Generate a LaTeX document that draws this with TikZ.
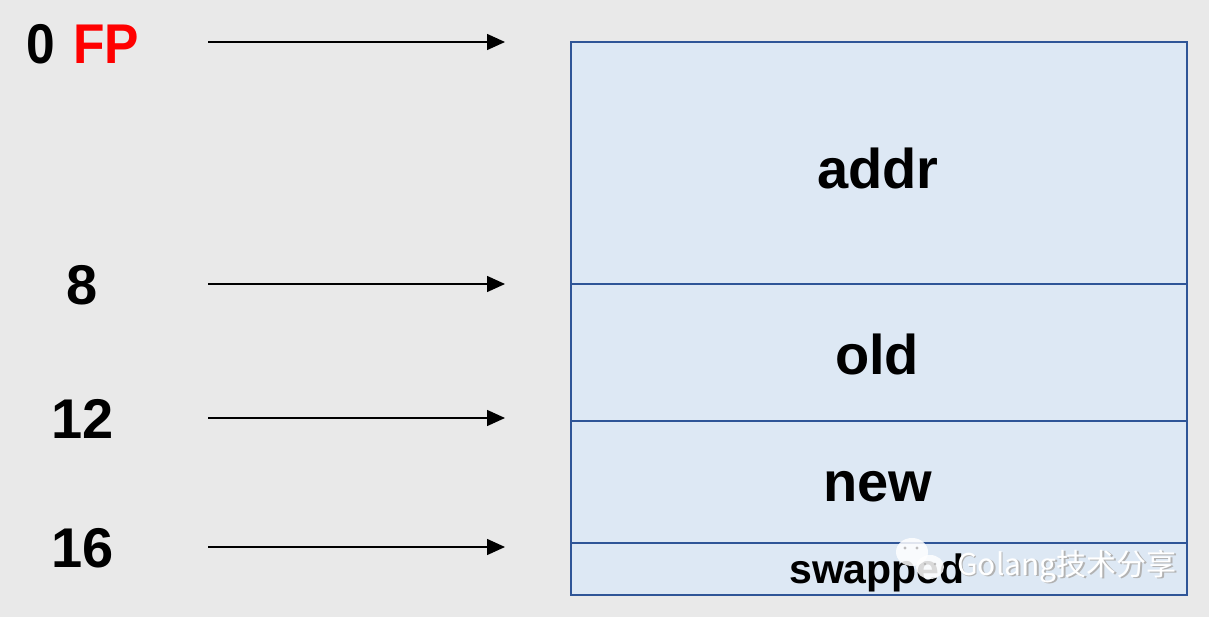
\documentclass[tikz,border=0pt]{standalone}
\usepackage{fontspec}
\setmainfont{Liberation Sans}
\newfontfamily\cjkfont{Noto Sans CJK SC}
\usetikzlibrary{arrows.meta}
\definecolor{bggray}{HTML}{E9E9E9}
\definecolor{cellfill}{HTML}{DDE8F4}
\definecolor{cellline}{HTML}{2F5597}
\tikzset{
  cell/.style={draw=cellline, line width=2.2pt, fill=cellfill},
  lbl/.style={font=\bfseries\fontsize{56}{60}\selectfont, inner sep=0pt},
  ptr/.style={line width=1.4pt, -{Triangle[length=18pt,width=16pt]}},
}
\begin{document}
\begin{tikzpicture}[x=1pt,y=-1pt]
\fill[bggray] (0,0) rectangle (1209,617);
\useasboundingbox (0,0) rectangle (1209,617);
% cells
\draw[cell] (571,42) rectangle (1187,284);
\draw[cell] (571,284) rectangle (1187,421);
\draw[cell] (571,421) rectangle (1187,543);
\draw[cell] (571,543) rectangle (1187,595);
\node[lbl] (addr) at (878,168) {addr};
\node[lbl] (old) at (877,354) {old};
\node[lbl] (new) at (878,487) {new};
\node[lbl, font=\bfseries\fontsize{41}{44}\selectfont, anchor=base] (swapped) at (877,583) {swapped};
% offsets
\node[lbl, anchor=base, xscale=0.92] (l0) at (83,64) {0\hspace{0.34em}\textcolor{red}{FP}};
\node[lbl, anchor=base] (l8) at (82,305) {8};
\node[lbl, anchor=base] (l12) at (83,438) {12};
\node[lbl, anchor=base] (l16) at (83,567) {16};
% arrows
\coordinate (s0) at (208,42);  \coordinate (e0) at (505,42);
\coordinate (s8) at (208,284); \coordinate (e8) at (505,284);
\coordinate (s12) at (208,418); \coordinate (e12) at (505,418);
\coordinate (s16) at (208,547); \coordinate (e16) at (505,547);
\draw[ptr] (s0) -- (e0);
\draw[ptr] (s8) -- (e8);
\draw[ptr] (s12) -- (e12);
\draw[ptr] (s16) -- (e16);
% watermark
\begin{scope}[opacity=0.85]
\fill[white] (912,552) ellipse (16 and 14);
\fill[white] (930,567) ellipse (14 and 12);
\fill[gray!60] (905,548) circle (1.6) (917,548) circle (1.6) (925,564) circle (1.4) (935,564) circle (1.4);
\end{scope}
\node[font=\cjkfont\fontsize{30}{33}\selectfont, text=gray!60, anchor=base west, inner sep=0pt] at (958.6,576.8) {Golang技术分享};
\node[font=\cjkfont\fontsize{30}{33}\selectfont, text=white, anchor=base west, inner sep=0pt] (wm) at (957,575) {Golang技术分享};
\end{tikzpicture}
\end{document}
